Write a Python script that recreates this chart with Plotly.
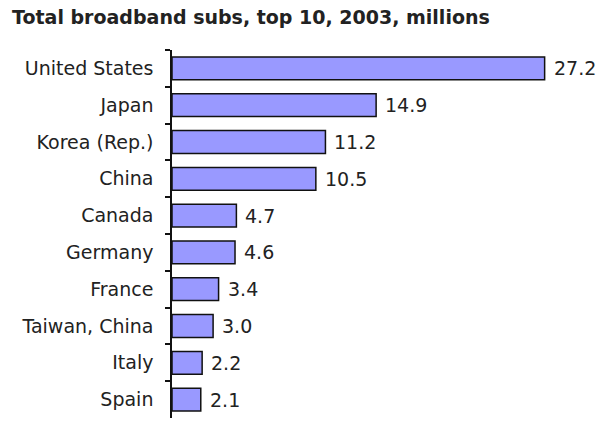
import plotly.graph_objects as go

# Broadband subscribers, top 10 economies, 2003 (millions)
countries = ["United States", "Japan", "Korea (Rep.)", "China", "Canada",
             "Germany", "France", "Taiwan, China", "Italy", "Spain"]
subs = [27.2, 14.9, 11.2, 10.5, 4.7, 4.6, 3.4, 3.0, 2.2, 2.1]
value_labels = ["27.2", "14.9", "11.2", "10.5", "4.7", "4.6", "3.4", "3.0", "2.2", "2.1"]

FONT = "DejaVu Sans"

fig = go.Figure(
    go.Bar(
        x=subs,
        y=countries,
        orientation="h",
        marker=dict(color="#9999FF", line=dict(color="#111111", width=1.5)),
        width=0.62,
        hoverinfo="skip",
    )
)

# value labels just past the end of each bar
for c, v, t in zip(countries, subs, value_labels):
    fig.add_annotation(
        x=v, y=c, text=t, showarrow=False,
        xanchor="left", yanchor="middle", xshift=7,
        font=dict(family=FONT, size=19, color="#222222"),
    )

fig.update_layout(
    width=600, height=446,
    margin=dict(l=172, r=17, t=50, b=28),
    paper_bgcolor="white", plot_bgcolor="white",
    showlegend=False,
    title=dict(
        text="<b>Total broadband subs, top 10, 2003, millions</b>",
        x=0.02, xanchor="left", y=0.962, yanchor="middle",
        font=dict(family=FONT, size=19, color="#222222"),
    ),
    xaxis=dict(range=[0, 30], visible=False, fixedrange=True),
    yaxis=dict(
        categoryorder="array", categoryarray=countries, autorange="reversed",
        showline=True, linecolor="#111111", linewidth=1.5,
        ticks="outside", tickson="boundaries", ticklen=5, tickcolor="#111111",
        tickwidth=1.5, ticklabelstandoff=13,
        tickfont=dict(family=FONT, size=19, color="#222222"),
        showgrid=False, zeroline=False,
    ),
)

fig.write_html("out.html")
